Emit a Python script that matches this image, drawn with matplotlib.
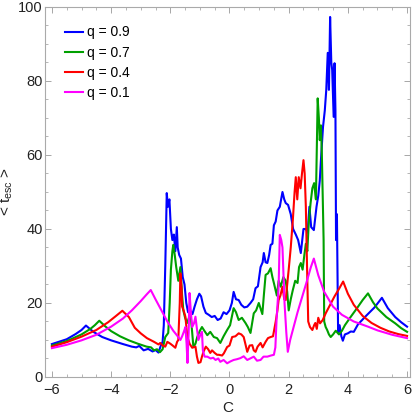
import matplotlib
matplotlib.use("Agg")
import matplotlib.pyplot as plt
from matplotlib.ticker import MultipleLocator

plt.rcParams['font.family'] = ['Liberation Sans', 'DejaVu Sans']
plt.rcParams['mathtext.fontset'] = 'custom'
plt.rcParams['mathtext.rm'] = 'Liberation Sans'
plt.rcParams['mathtext.it'] = 'Liberation Sans:italic'

# ---- data (C vs <t_esc>) ----
blue_x = [-6.0, -5.5, -5.2, -5.0, -4.85, -4.6, -4.3, -4.0, -3.6, -3.3, -3.15, -3.05, -2.9, -2.75,
          -2.6, -2.5, -2.4, -2.32, -2.26, -2.22, -2.17, -2.12, -2.08, -2.03, -1.98, -1.93, -1.88,
          -1.83, -1.78, -1.75, -1.7, -1.64, -1.58, -1.52, -1.46, -1.4, -1.33, -1.25, -1.18, -1.1,
          -1.02, -0.96, -0.88, -0.8, -0.7, -0.6, -0.5, -0.4, -0.3, -0.2, -0.1, 0.0, 0.08, 0.14,
          0.22, 0.31, 0.4, 0.5, 0.6, 0.71, 0.8, 0.88, 0.96, 1.05, 1.12, 1.16, 1.22, 1.28, 1.34,
          1.39, 1.45, 1.5, 1.56, 1.62, 1.7, 1.79, 1.85, 1.9, 1.98, 2.07, 2.15, 2.24, 2.32, 2.41,
          2.5, 2.58, 2.64, 2.7, 2.76, 2.85, 2.94, 3.0, 3.05, 3.1, 3.16, 3.22, 3.27, 3.32, 3.36,
          3.40, 3.44, 3.47, 3.52, 3.55, 3.58, 3.6, 3.63, 3.67, 3.72, 3.78, 3.83, 3.9, 4.0, 4.1,
          4.2, 4.34, 4.6, 4.9, 5.15, 5.35, 5.6, 5.8, 6.0]
blue_y = [8.9, 10.2, 11.6, 12.7, 13.9, 12.2, 10.8, 9.9, 8.9, 8.2, 8.0, 8.4, 7.2, 7.6,
          6.9, 7.3, 6.6, 8.5, 9.5, 14, 30, 49.7, 46, 48, 40, 37, 38.5,
          34, 40.5, 35, 33, 32, 27, 25, 20, 17.5, 18, 17, 19, 21,
          22.5, 21.8, 19, 17.3, 16.8, 16.2, 16.5, 15.4, 15.8, 17.5, 17, 18, 20, 23,
          21, 20.8, 19.5, 18.8, 19, 20, 21, 24, 24.5, 29.7, 31, 33.5, 31, 30.8, 33,
          35.7, 36, 41, 42, 45, 46, 50, 48, 47, 46.5, 44, 40, 38.5, 37, 33.5,
          40, 40, 39, 46, 40.5, 39.7, 46, 49, 53, 60, 67.6, 72, 77.6, 87.6, 77.6,
          97.3, 85, 83, 70.3, 84.8, 72, 37, 44, 12, 14, 11, 9.8, 11.5, 11.8, 12.3,
          12.2, 14.2, 16.4, 18.8, 21.4, 18.6, 16.2, 14.8, 13.6]

green_x = [-6.0, -5.5, -5.0, -4.7, -4.55, -4.4, -4.2, -4.0, -3.7, -3.4, -3.1, -2.8, -2.65, -2.55,
           -2.45, -2.35, -2.26, -2.17, -2.07, -2.02, -1.98, -1.93, -1.9, -1.85, -1.8, -1.73, -1.66,
           -1.6, -1.56, -1.5, -1.43, -1.32, -1.26, -1.22, -1.15, -1.09, -1.0, -0.93, -0.85, -0.75,
           -0.65, -0.53, -0.42, -0.31, -0.2, -0.08, 0.02, 0.14, 0.22, 0.31, 0.42, 0.54, 0.62, 0.71,
           0.82, 0.9, 0.99, 1.05, 1.11, 1.16, 1.22, 1.3, 1.39, 1.45, 1.5, 1.6, 1.66, 1.73, 1.82,
           1.9, 1.95, 2.0, 2.07, 2.14, 2.22, 2.3, 2.35, 2.41, 2.47, 2.53, 2.58, 2.63, 2.68, 2.74,
           2.8, 2.86, 2.92, 2.98, 3.02, 3.05, 3.09, 3.12, 3.16, 3.18, 3.2, 3.25, 3.3, 3.36, 3.42,
           3.5, 3.59, 3.7, 3.8, 3.9, 4.1, 4.3, 4.5, 4.68, 4.85, 5.0, 5.3, 5.6, 5.8, 6.0]
green_y = [8.5, 9.7, 11.5, 13.0, 14.0, 15.2, 13.7, 12.4, 11.0, 9.9, 9.0, 8.2, 8.0, 7.2,
           7.5, 6.7, 7.5, 10.8, 11.9, 20, 29, 34, 35.7, 33, 29.7, 26, 29.7,
           22, 18, 16, 14.6, 17.2, 12, 8.1, 9, 10.8, 12.5, 13.5, 12.5, 11.3,
           12.2, 10.8, 10.5, 9.2, 11, 12.7, 14, 18.6, 17.5, 15.4, 16, 14.6, 13.5, 11.9,
           17.2, 18, 20, 18.5, 17, 22, 27.6, 28, 29.4, 27, 25.4, 22, 26, 24.4, 27,
           26, 23, 18, 21, 23.5, 26, 25.4, 29.7, 30.8, 29, 33, 36, 34, 42, 47,
           51, 52.4, 48, 75.3, 70, 64, 68, 60.5, 45, 37, 15, 13.5, 12.7, 11.5, 10.8,
           11.5, 12.5, 11.5, 12.5, 14, 16.3, 18.5, 20.8, 22.6, 20.2, 18.5, 16.2, 14.5, 13.2, 12.2]

red_x = [-6.0, -5.5, -5.0, -4.5, -4.1, -3.85, -3.62, -3.4, -3.2, -3.0, -2.79, -2.55, -2.4, -2.34,
         -2.26, -2.17, -2.1, -2.0, -1.92, -1.83, -1.77, -1.73, -1.68, -1.66, -1.62, -1.6, -1.55,
         -1.49, -1.45, -1.42, -1.35, -1.26, -1.15, -1.1, -1.05, -0.98, -0.93, -0.88, -0.8, -0.72,
         -0.65, -0.59, -0.5, -0.42, -0.36, -0.25, -0.19, -0.08, 0.0, 0.09, 0.2, 0.31, 0.4, 0.48,
         0.55, 0.6, 0.68, 0.77, 0.82, 0.88, 0.95, 1.05, 1.12, 1.22, 1.3, 1.39, 1.47, 1.56, 1.62,
         1.66, 1.72, 1.79, 1.85, 1.9, 1.95, 2.0, 2.07, 2.14, 2.2, 2.24, 2.29, 2.34, 2.4, 2.45,
         2.5, 2.54, 2.58, 2.62, 2.66, 2.72, 2.8, 2.86, 2.9, 2.95, 3.0, 3.06, 3.15, 3.25, 3.4,
         3.55, 3.7, 3.84, 4.0, 4.2, 4.5, 4.8, 5.1, 5.4, 5.7, 6.0]
red_y = [8.2, 9.4, 10.9, 12.7, 14.8, 16.4, 17.9, 16.2, 13.3, 11.8, 10.5, 9.5, 8.8, 9.2,
         8.5, 8.2, 9.5, 9, 8.5, 7.9, 9.5, 10, 20, 28, 24, 19, 18,
         16.3, 13, 10.8, 9, 7.9, 8.2, 5.5, 3.8, 4, 5.5, 6.8, 8.2, 7.5,
         6.5, 7.2, 6.5, 6, 6, 5.8, 6.4, 8.1, 8.5, 10.8, 11, 11.8, 11.5, 10.8,
         8.5, 6.8, 8.5, 8.6, 7.2, 6.8, 8.2, 9.2, 8, 9.5, 10.5, 10.8, 11, 14.9, 18,
         20.8, 22, 24.4, 21, 20.8, 25, 29, 35, 42.4, 50, 54, 48, 54, 51, 55,
         58.6, 55, 46, 30, 15, 13.5, 12.7, 14, 14.6, 13, 16, 14.5, 15.4, 17.2, 19.5,
         21.8, 23.8, 25.8, 22.5, 19.5, 16.5, 14.6, 13.3, 12.3, 11.6, 11.1]

magenta_x = [-6.0, -5.5, -5.0, -4.5, -4.0, -3.6, -3.3, -3.0, -2.8, -2.66, -2.5, -2.3, -2.1, -1.9,
             -1.73, -1.66, -1.6, -1.53, -1.49, -1.45, -1.42, -1.38, -1.35, -1.3, -1.26, -1.2,
             -1.15, -1.1, -1.05, -0.98, -0.93, -0.9, -0.84, -0.75, -0.64, -0.55, -0.47, -0.38,
             -0.31, -0.2, -0.08, 0.03, 0.14, 0.25, 0.37, 0.48, 0.6, 0.7, 0.82, 0.93, 1.05, 1.15,
             1.28, 1.4, 1.5, 1.55, 1.59, 1.66, 1.7, 1.75, 1.79, 1.86, 1.92, 1.97, 2.05, 2.14, 2.3,
             2.45, 2.6, 2.75, 2.85, 3.0, 3.2, 3.5, 3.8, 4.2, 4.68, 5.0, 5.5, 6.0]
magenta_y = [7.8, 8.7, 9.9, 11.4, 13.6, 15.8, 18, 20.5, 22.3, 23.5, 21, 18, 15, 12.5,
             10.8, 10, 11, 12.5, 13.5, 9, 3.8, 12, 22.7, 17, 13.5, 14.5,
             16.3, 13, 10, 11.5, 12.2, 7.2, 5.5, 5.5, 5, 5.2, 4.6, 5,
             4.1, 4.6, 3.7, 4.2, 4.6, 4.8, 5.1, 5.6, 4.6, 5, 5.5, 4.4, 4.6, 5.5,
             5.5, 5.8, 6, 8, 15.4, 24.4, 38.4, 37, 35, 20, 12, 6.8, 10, 12.7, 17.5,
             21.5, 25.5, 29.7, 32, 27.5, 23, 19, 16.8, 15, 13.6, 12.6, 11.4, 10.5]

labels = ["q = 0.9", "q = 0.7", "q = 0.4", "q = 0.1"]
colors = ["#0000ff", "#00a000", "#ff0000", "#ff00ff"]

fig = plt.figure(figsize=(4.15, 4.15), dpi=100)
ax = fig.add_axes([0.108, 0.0916, 0.88, 0.8916])

series = [(blue_x, blue_y), (green_x, green_y), (red_x, red_y), (magenta_x, magenta_y)]
for (xs, ys), lab, c in zip(series, labels, colors):
    ax.plot(xs, ys, color=c, lw=1.5, label=lab)

ax.set_xlim(-6.24, 6.1)
ax.set_ylim(0, 100)
ax.xaxis.set_major_locator(MultipleLocator(2))
ax.xaxis.set_minor_locator(MultipleLocator(0.5))
ax.yaxis.set_major_locator(MultipleLocator(20))
ax.yaxis.set_minor_locator(MultipleLocator(5))
ax.tick_params(which="both", direction="in", top=True, right=True, colors="#999999",
               labelcolor="#222222", labelsize=10.5)
ax.tick_params(which="major", length=4, width=0.6)
ax.tick_params(which="minor", length=2, width=0.5)
ax.tick_params(axis="y", pad=1.5)
ax.tick_params(axis="x", pad=4)
for s in ax.spines.values():
    s.set_color("#aaaaaa")
    s.set_linewidth(0.8)

ax.set_xlabel("C", fontsize=11, color="#222222")
ax.set_ylabel(r"< t$_{\mathrm{esc}}$ >", fontsize=11, color="#222222")
ax.xaxis.set_label_coords(0.5, -0.084)
ax.yaxis.set_label_coords(-0.104, 0.5)
ax.yaxis.label.set_va("center")
ax.xaxis.label.set_va("center")

ax.legend(loc="upper left", bbox_to_anchor=(0.04, 0.965), frameon=False, fontsize=10,
          handlelength=1.3, handletextpad=0.3, labelspacing=0.45, borderaxespad=0)

fig.savefig("out.png", dpi=100)
